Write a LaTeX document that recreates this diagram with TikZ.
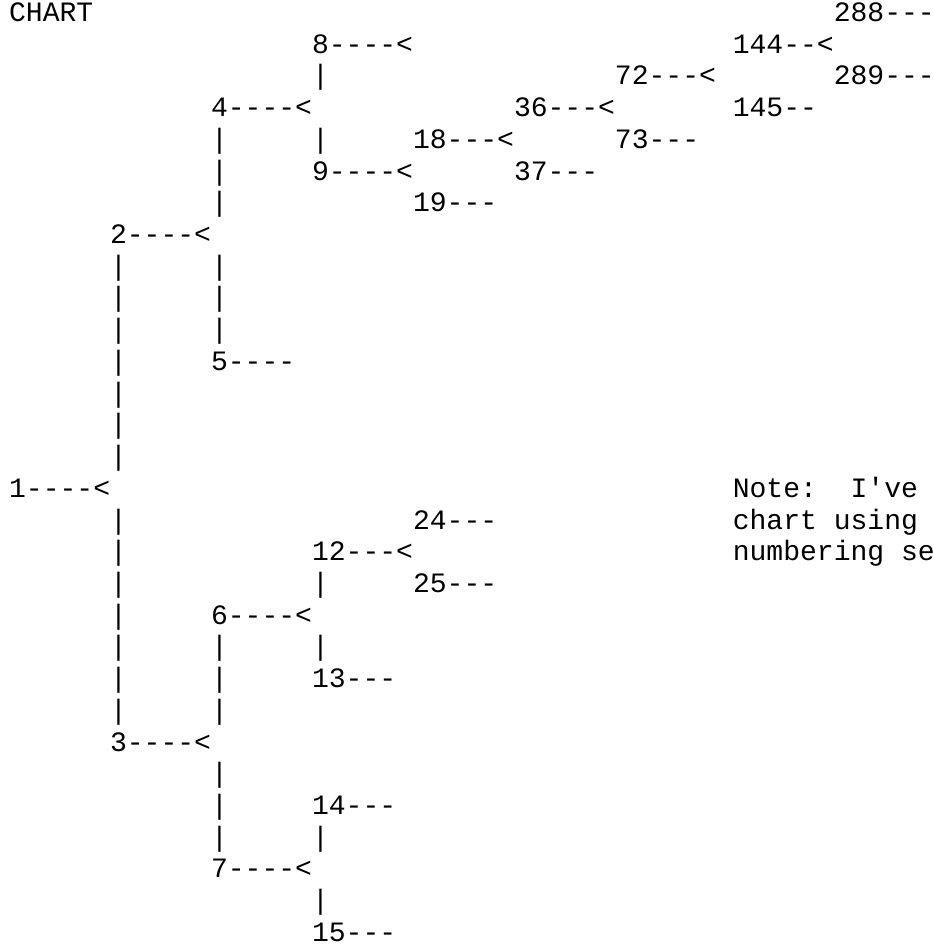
\documentclass[tikz,border=0pt]{standalone}
\usepackage{fontspec}
\setmonofont{Liberation Mono}
\begin{document}
\begin{tikzpicture}[x=1pt,y=1pt,
  txt/.style={anchor=base west, inner sep=0pt, outer sep=0pt,
    font=\ttfamily\fontsize{28.05}{31.72}\selectfont, text=black}]
\useasboundingbox (0,0) rectangle (932,-947);
\clip (0,0) rectangle (932,-947);
\newcommand\asc[4]{\node[txt] (#1) at ({9.1+#2*16.83},{-21.5-#3*31.72}) {#4};}
% row 0
\asc{chart}{0}{0}{CHART}
\asc{n288}{49}{0}{288---}
% row 1
\asc{n8}{18}{1}{8----<}
\asc{n144}{43}{1}{144--<}
% row 2
\asc{b2x18}{18}{2}{|}
\asc{n72}{36}{2}{72---<}
\asc{n289}{49}{2}{289---}
% row 3
\asc{n4}{12}{3}{4----<}
\asc{n36}{30}{3}{36---<}
\asc{n145}{43}{3}{145--}
% row 4
\asc{b4x12}{12}{4}{|}
\asc{b4x18}{18}{4}{|}
\asc{n18}{24}{4}{18---<}
\asc{n73}{36}{4}{73---}
% row 5
\asc{b5x12}{12}{5}{|}
\asc{n9}{18}{5}{9----<}
\asc{n37}{30}{5}{37---}
% row 6
\asc{b6x12}{12}{6}{|}
\asc{n19}{24}{6}{19---}
% row 7
\asc{n2}{6}{7}{2----<}
% rows 8-14
\foreach \r in {8,...,14} {\asc{b\r x6}{6}{\r}{|}}
\foreach \r in {8,9,10} {\asc{b\r x12}{12}{\r}{|}}
\asc{n5}{12}{11}{5----}
% row 15
\asc{n1}{0}{15}{1----<}
\asc{note1}{43}{15}{Note:}
\asc{note2}{50}{15}{I've}
% rows 16-22 left bar
\foreach \r in {16,...,22} {\asc{b\r x6}{6}{\r}{|}}
\asc{n24}{24}{16}{24---}
\asc{note3}{43}{16}{chart}
\asc{note4}{49}{16}{using}
\asc{n12}{18}{17}{12---<}
\asc{note5}{43}{17}{numbering}
\asc{note6}{53}{17}{se}
\asc{b18x18}{18}{18}{|}
\asc{n25}{24}{18}{25---}
\asc{n6}{12}{19}{6----<}
\asc{b20x12}{12}{20}{|}
\asc{b20x18}{18}{20}{|}
\asc{b21x12}{12}{21}{|}
\asc{n13}{18}{21}{13---}
\asc{b22x12}{12}{22}{|}
% row 23
\asc{n3}{6}{23}{3----<}
\asc{b24x12}{12}{24}{|}
\asc{b25x12}{12}{25}{|}
\asc{n14}{18}{25}{14---}
\asc{b26x12}{12}{26}{|}
\asc{b26x18}{18}{26}{|}
\asc{n7}{12}{27}{7----<}
\asc{b28x18}{18}{28}{|}
\asc{n15}{18}{29}{15---}
\end{tikzpicture}
\end{document}
